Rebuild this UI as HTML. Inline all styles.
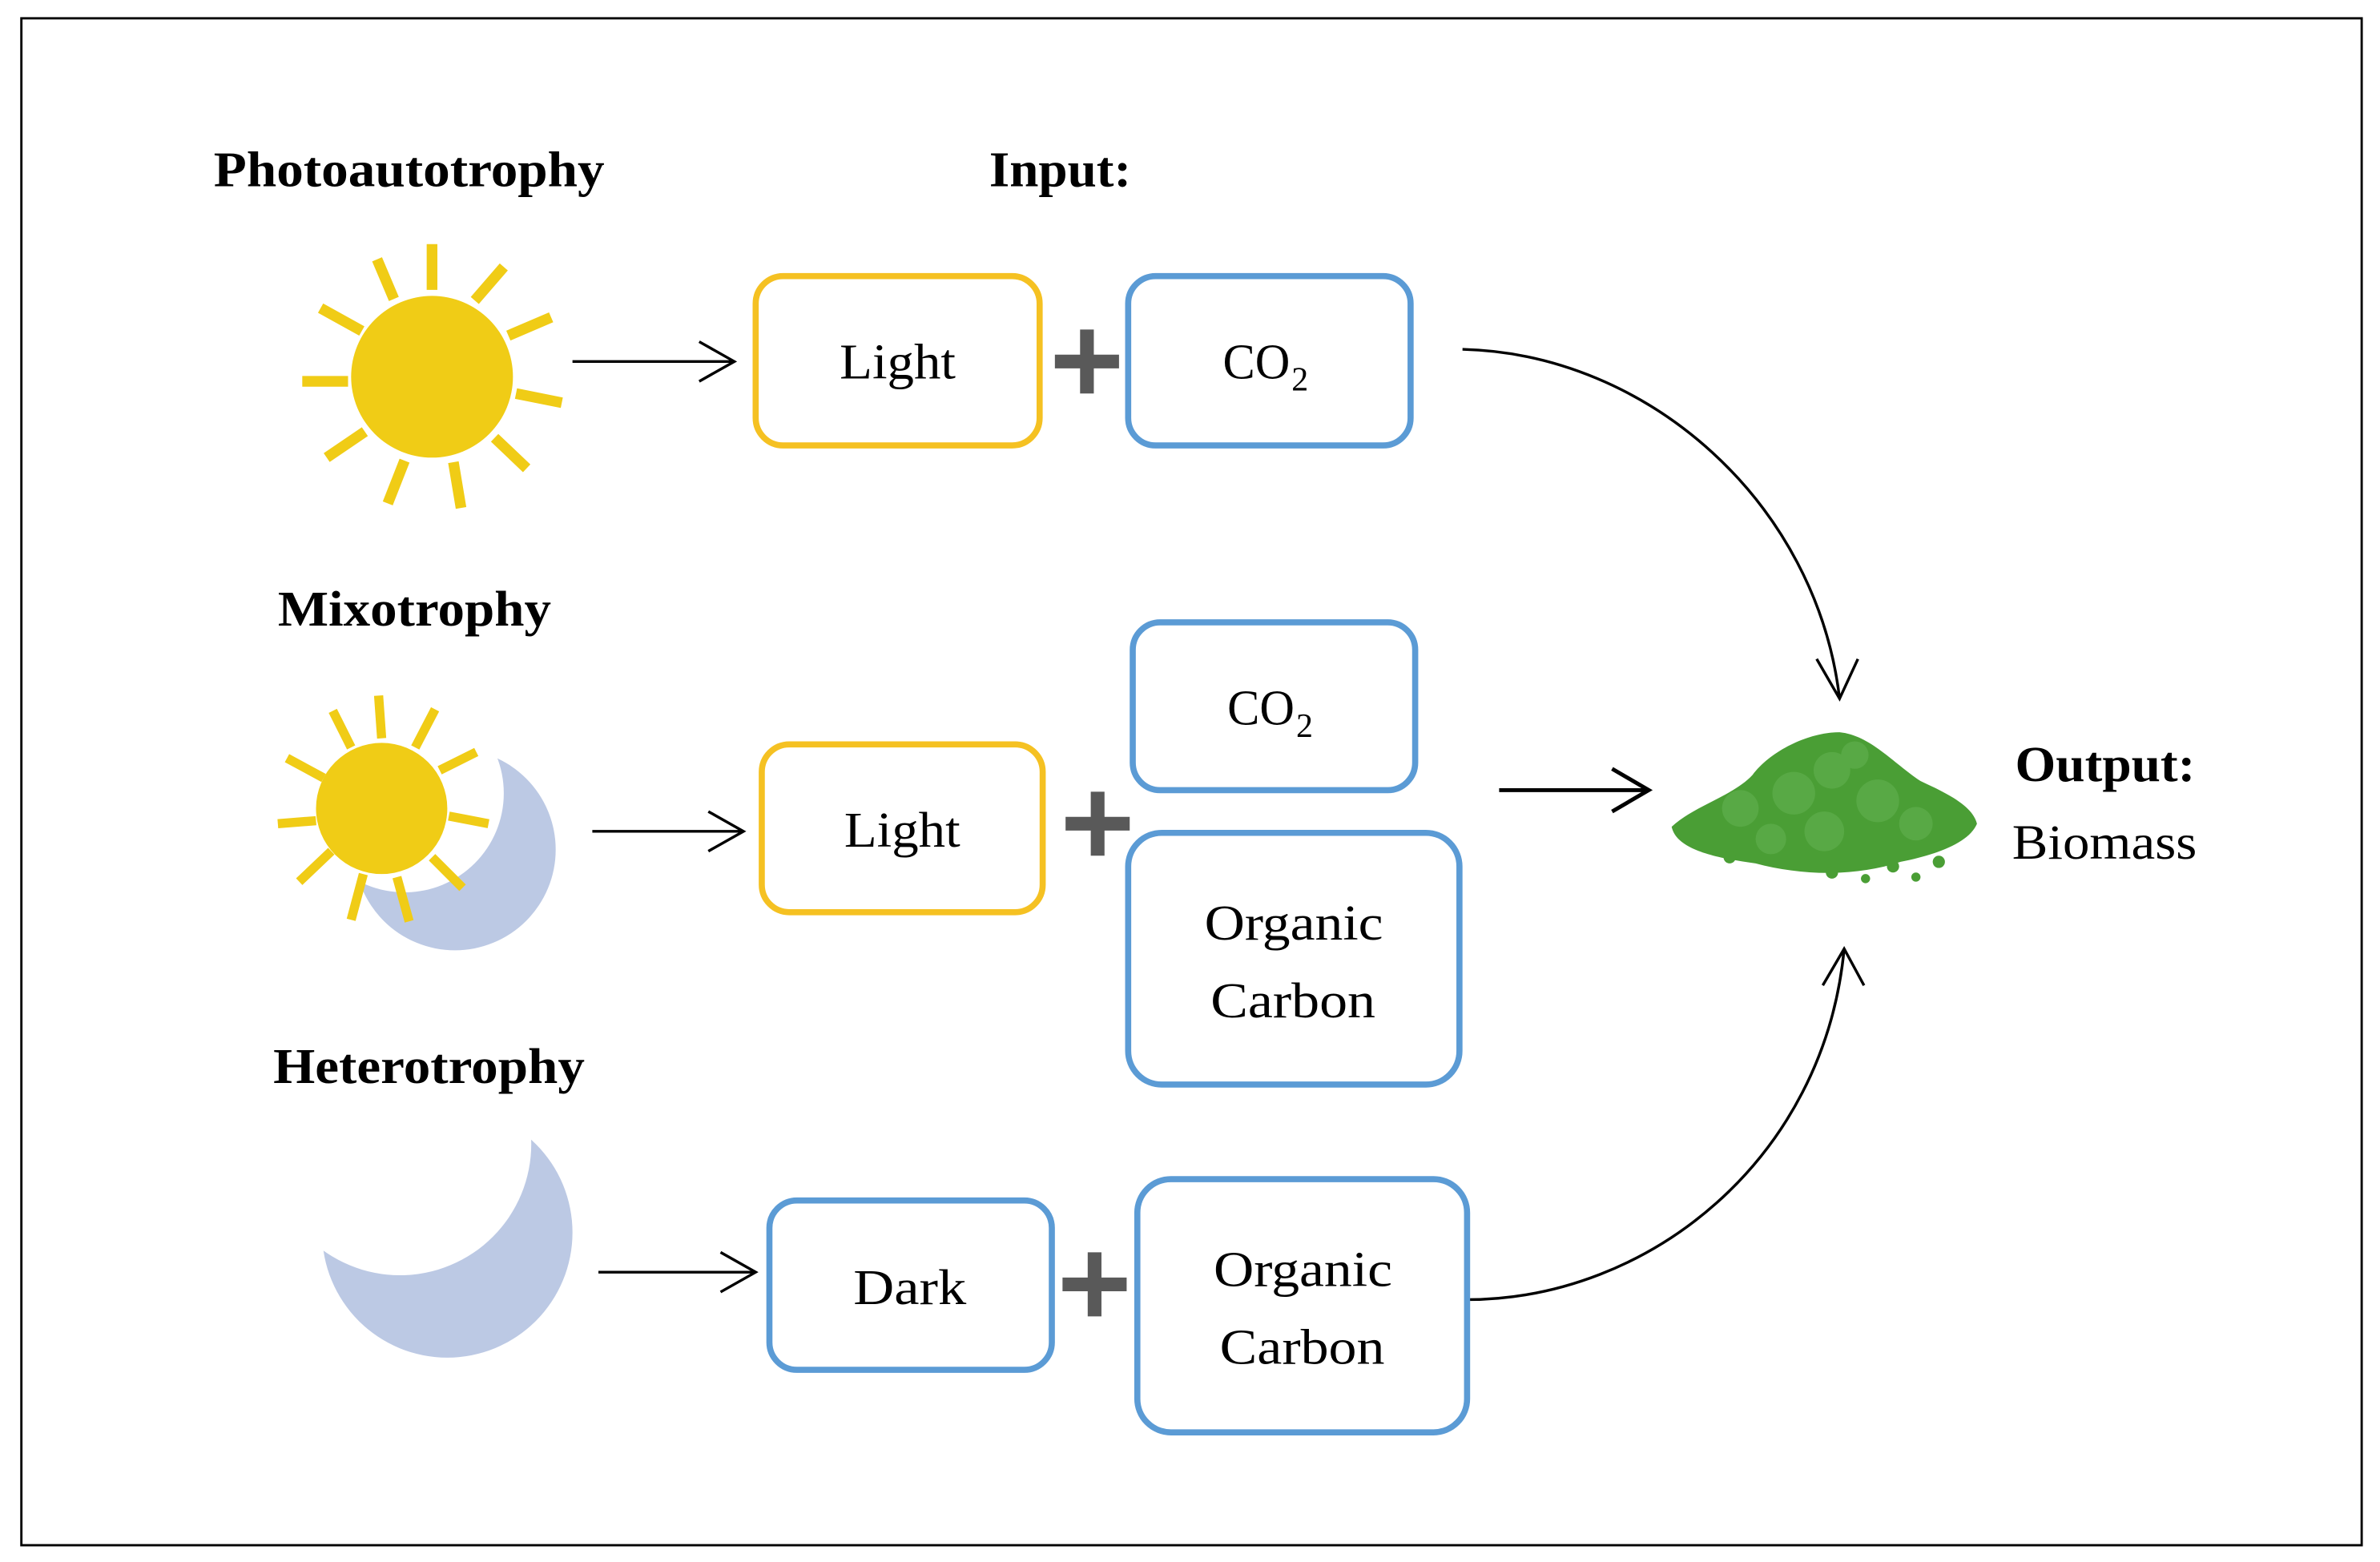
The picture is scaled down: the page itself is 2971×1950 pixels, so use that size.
<!DOCTYPE html>
<html><head><meta charset="utf-8"><style>html,body{margin:0;padding:0;background:#fff}svg{display:block}</style></head><body>
<svg width="2971" height="1950" viewBox="0 0 1559 1024" preserveAspectRatio="none" xmlns="http://www.w3.org/2000/svg" font-family="Liberation Serif, serif">
<defs>
<mask id="m1"><rect width="1559" height="1024" fill="#fff"/><circle cx="265" cy="520" r="65" fill="#000"/></mask>
<mask id="m2"><rect width="1559" height="1024" fill="#fff"/><circle cx="262" cy="750" r="86" fill="#000"/></mask>
</defs>
<rect x="14" y="12" width="1533" height="1001" fill="#fff" stroke="#000" stroke-width="1.5"/>
<g font-weight="bold" font-size="33" fill="#000">
<text x="140" y="122" textLength="256" lengthAdjust="spacingAndGlyphs">Photoautotrophy</text>
<text x="648" y="122" textLength="93" lengthAdjust="spacingAndGlyphs">Input:</text>
<text x="182" y="410" textLength="179" lengthAdjust="spacingAndGlyphs">Mixotrophy</text>
<text x="179" y="710" textLength="204" lengthAdjust="spacingAndGlyphs">Heterotrophy</text>
<text x="1320" y="512" textLength="118" lengthAdjust="spacingAndGlyphs">Output:</text>
</g>
<text x="1318" y="563" font-size="32" textLength="121" lengthAdjust="spacingAndGlyphs">Biomass</text>
<g stroke="#f0cc16" stroke-width="7">
<line x1="283" y1="190" x2="283" y2="160"/><line x1="311" y1="197" x2="330" y2="175"/><line x1="333" y1="220" x2="361" y2="208"/><line x1="338" y1="258" x2="368" y2="264"/><line x1="324" y1="287" x2="345" y2="307"/><line x1="297" y1="303" x2="302" y2="333"/><line x1="265" y1="302" x2="254" y2="330"/><line x1="239" y1="283" x2="214" y2="300"/><line x1="228" y1="250" x2="198" y2="250"/><line x1="237" y1="217" x2="210" y2="202"/><line x1="258" y1="196" x2="247" y2="170"/>
</g>
<circle cx="283" cy="247" r="53" fill="#f0cc16"/>
<circle cx="298" cy="557" r="66" fill="#bcc9e4" mask="url(#m1)"/>
<g stroke="#f0cc16" stroke-width="6">
<line x1="250" y1="484" x2="248" y2="456"/><line x1="272" y1="490" x2="285" y2="465"/><line x1="288" y1="505" x2="312" y2="493"/><line x1="294" y1="535" x2="320" y2="540"/><line x1="283" y1="562" x2="303" y2="582"/><line x1="260" y1="575" x2="268" y2="604"/><line x1="238" y1="573" x2="230" y2="603"/><line x1="217" y1="558" x2="196" y2="578"/><line x1="207" y1="538" x2="182" y2="540"/><line x1="212" y1="510" x2="188" y2="497"/><line x1="230" y1="490" x2="218" y2="466"/>
</g>
<circle cx="250" cy="530" r="43" fill="#f0cc16"/>
<circle cx="293" cy="808" r="82" fill="#bcc9e4" mask="url(#m2)"/>
<g stroke="#000" stroke-width="1.8" fill="none">
<path d="M375 237H481M458 224L481 237L458 250"/>
<path d="M388 545H487M464 532L487 545L464 558"/>
<path d="M392 834H495M472 821L495 834L472 847"/>
<path d="M982 518H1080M1056 504L1080 518L1056 532" stroke-width="2.6"/>
<path d="M958 229C1080 232 1190 330 1205 458M1190 432L1205 458L1217 432"/>
<path d="M961 852C1080 852 1195 760 1208 622M1194 646L1208 622L1221 646"/>
</g>
<g fill="#fff" stroke-width="4">
<rect x="495" y="181" width="186" height="111" rx="18" stroke="#f5c122"/>
<rect x="739" y="181" width="185" height="111" rx="18" stroke="#5b9bd5"/>
<rect x="499" y="488" width="184" height="110" rx="18" stroke="#f5c122"/>
<rect x="742" y="408" width="185" height="110" rx="18" stroke="#5b9bd5"/>
<rect x="739" y="546" width="217" height="165" rx="22" stroke="#5b9bd5"/>
<rect x="504" y="787" width="185" height="111" rx="18" stroke="#5b9bd5"/>
<rect x="745" y="773" width="216" height="166" rx="22" stroke="#5b9bd5"/>
</g>
<g font-size="33" fill="#000">
<text x="550" y="248" textLength="76" lengthAdjust="spacingAndGlyphs">Light</text>
<text x="801" y="248" textLength="44" lengthAdjust="spacingAndGlyphs">CO</text><text x="846" y="256" font-size="22">2</text>
<text x="553" y="555" textLength="76" lengthAdjust="spacingAndGlyphs">Light</text>
<text x="804" y="475" textLength="44" lengthAdjust="spacingAndGlyphs">CO</text><text x="849" y="483" font-size="22">2</text>
<text x="789" y="616" textLength="117" lengthAdjust="spacingAndGlyphs">Organic</text><text x="793" y="667" textLength="108" lengthAdjust="spacingAndGlyphs">Carbon</text>
<text x="559" y="855" textLength="74" lengthAdjust="spacingAndGlyphs">Dark</text>
<text x="795" y="843" textLength="117" lengthAdjust="spacingAndGlyphs">Organic</text><text x="799" y="894" textLength="108" lengthAdjust="spacingAndGlyphs">Carbon</text>
</g>
<g stroke="#595959" stroke-width="9">
<path d="M691 237H733M712 216V258"/>
<path d="M698 540H740M719 519V561"/>
<path d="M696 842H738M717 821V863"/>
</g>
<path d="M1095 542C1110 528 1135 522 1148 508C1160 492 1185 480 1205 480C1225 482 1240 500 1258 512C1275 520 1292 528 1295 540C1290 552 1270 560 1245 565C1215 575 1180 574 1150 566C1120 562 1098 556 1095 542Z" fill="#4a9e35"/>
<g fill="#6bb85a" opacity="0.45">
<circle cx="1140" cy="530" r="12"/><circle cx="1175" cy="520" r="14"/><circle cx="1200" cy="505" r="12"/><circle cx="1230" cy="525" r="14"/><circle cx="1255" cy="540" r="11"/><circle cx="1195" cy="545" r="13"/><circle cx="1160" cy="550" r="10"/><circle cx="1215" cy="495" r="9"/>
</g>
<g fill="#4a9e35"><circle cx="1133" cy="562" r="4"/><circle cx="1200" cy="572" r="4"/><circle cx="1240" cy="568" r="4"/><circle cx="1270" cy="565" r="4"/><circle cx="1255" cy="575" r="3"/><circle cx="1222" cy="576" r="3"/></g>
</svg>
</body></html>
